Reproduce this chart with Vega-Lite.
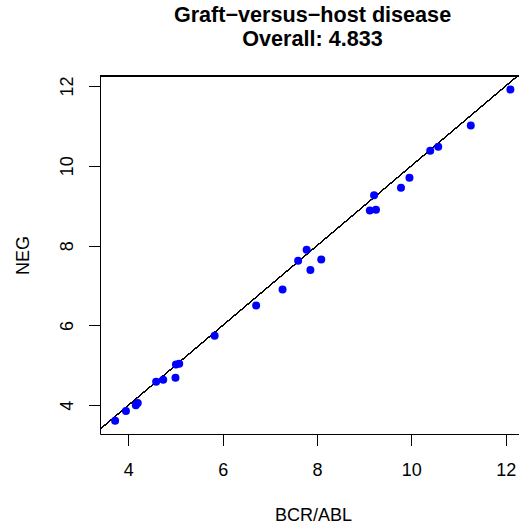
{
  "$schema": "https://vega.github.io/schema/vega-lite/v6.json",
  "width": 419,
  "height": 358,
  "autosize": "none",
  "padding": {"left": 100, "top": 76, "right": 0, "bottom": 91},
  "background": "white",
  "title": {
    "text": ["Graft−versus−host disease", "Overall: 4.833"],
    "font": "Liberation Sans",
    "fontSize": 21.6,
    "fontWeight": "bold",
    "color": "black",
    "anchor": "middle",
    "frame": "group",
    "baseline": "alphabetic",
    "lineHeight": 24,
    "offset": 8,
    "dx": 3
  },
  "data": {
    "values": [
      {"BCR_ABL": 3.72, "NEG": 3.61},
      {"BCR_ABL": 3.95, "NEG": 3.86},
      {"BCR_ABL": 4.16, "NEG": 4.0},
      {"BCR_ABL": 4.2, "NEG": 4.06},
      {"BCR_ABL": 4.59, "NEG": 4.59},
      {"BCR_ABL": 4.74, "NEG": 4.64},
      {"BCR_ABL": 5.0, "NEG": 4.69},
      {"BCR_ABL": 5.01, "NEG": 5.02},
      {"BCR_ABL": 5.08, "NEG": 5.04},
      {"BCR_ABL": 5.83, "NEG": 5.74},
      {"BCR_ABL": 6.71, "NEG": 6.5},
      {"BCR_ABL": 7.27, "NEG": 6.9},
      {"BCR_ABL": 7.6, "NEG": 7.62},
      {"BCR_ABL": 7.78, "NEG": 7.9},
      {"BCR_ABL": 7.86, "NEG": 7.39},
      {"BCR_ABL": 8.09, "NEG": 7.65},
      {"BCR_ABL": 9.12, "NEG": 8.88},
      {"BCR_ABL": 9.25, "NEG": 8.9},
      {"BCR_ABL": 9.21, "NEG": 9.26},
      {"BCR_ABL": 9.78, "NEG": 9.45},
      {"BCR_ABL": 9.96, "NEG": 9.7},
      {"BCR_ABL": 10.4, "NEG": 10.38},
      {"BCR_ABL": 10.57, "NEG": 10.48},
      {"BCR_ABL": 11.26, "NEG": 11.01},
      {"BCR_ABL": 12.1, "NEG": 11.91}
    ]
  },
  "layer": [
    {
      "mark": {"type": "rule", "color": "black", "strokeWidth": 1},
      "encoding": {
        "x": {"datum": 3.4, "type": "quantitative", "scale": {"domain": [3.4, 12.282], "nice": false, "zero": false}},
        "y": {"datum": 3.4, "type": "quantitative", "scale": {"domain": [3.281, 12.25], "nice": false, "zero": false}},
        "x2": {"datum": 12.25},
        "y2": {"datum": 12.25}
      }
    },
    {
      "mark": {"type": "rule", "color": "black", "strokeWidth": 1},
      "encoding": {
        "y": {"datum": 12.25, "type": "quantitative"}
      }
    },
    {
      "mark": {"type": "circle", "color": "#0000FF", "opacity": 1, "size": 64},
      "encoding": {
        "x": {
          "field": "BCR_ABL",
          "type": "quantitative",
          "scale": {"domain": [3.4, 12.282], "nice": false, "zero": false},
          "axis": {
            "title": "BCR/ABL",
            "values": [4, 6, 8, 10, 12],
            "labelBaseline": "alphabetic",
            "labelPadding": 29.5,
            "titleX": 213,
            "titleY": 86.7,
            "titleBaseline": "alphabetic",
            "titleAnchor": null,
            "titleAlign": "center"
          }
        },
        "y": {
          "field": "NEG",
          "type": "quantitative",
          "scale": {"domain": [3.281, 12.25], "nice": false, "zero": false},
          "axis": {
            "title": "NEG",
            "values": [4, 6, 8, 10, 12],
            "labelAngle": 270,
            "labelAlign": "center",
            "labelBaseline": "alphabetic",
            "labelPadding": 16,
            "titleX": -71.5,
            "titleY": 179,
            "titleAngle": 270,
            "titleBaseline": "alphabetic",
            "titleAlign": "center",
            "titleAnchor": null
          }
        }
      }
    }
  ],
  "config": {
    "view": {"stroke": null},
    "axis": {
      "grid": false,
      "domainColor": "black",
      "domainWidth": 1,
      "tickColor": "black",
      "tickWidth": 1,
      "tickSize": 11.5,
      "labelFont": "Liberation Sans",
      "labelFontSize": 18,
      "labelColor": "black",
      "titleFont": "Liberation Sans",
      "titleFontSize": 18,
      "titleFontWeight": "normal",
      "titleColor": "black",
      "labelOverlap": false,
      "labelFlush": false
    }
  }
}
